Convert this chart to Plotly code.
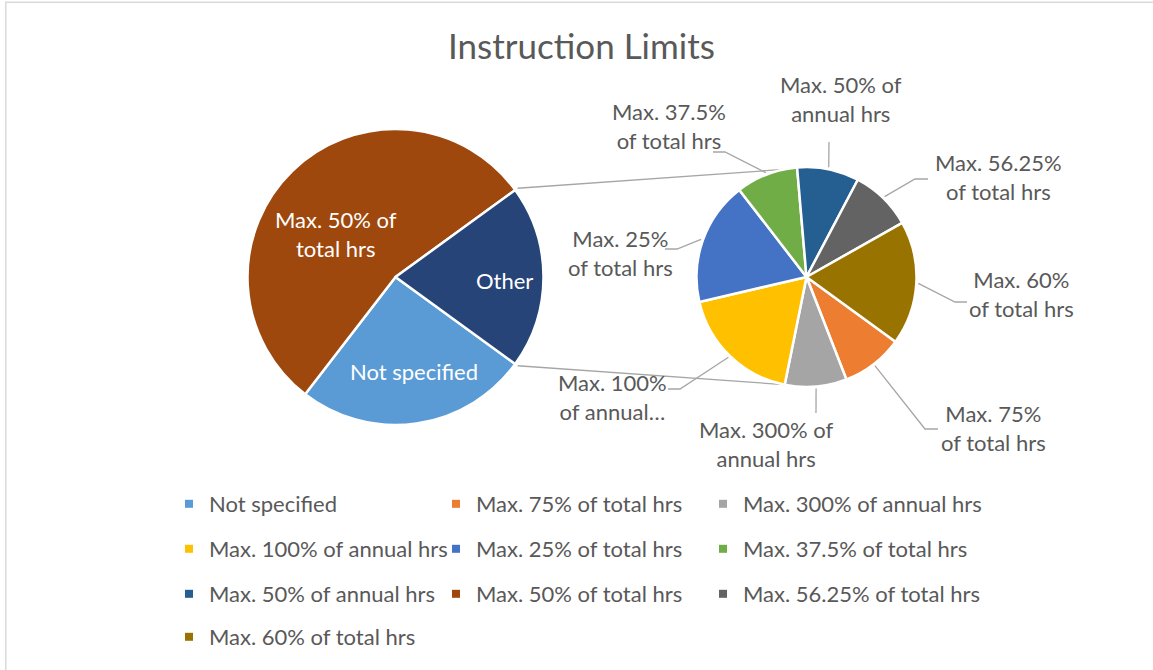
import math
import plotly.graph_objects as go

W, H = 1153, 670

# ---------------- data ----------------
main_labels = ["Not specified", "Max. 50% of total hrs", "Other"]
main_values = [14, 30, 11]
main_colors = ["#5B9BD5", "#9E480E", "#264478"]
main_text = ["Not specified", "Max. 50% of<br>total hrs", "Other"]

sec_labels = [
    "Max. 75% of total hrs",
    "Max. 300% of annual hrs",
    "Max. 100% of annual hrs",
    "Max. 25% of total hrs",
    "Max. 37.5% of total hrs",
    "Max. 50% of annual hrs",
    "Max. 56.25% of total hrs",
    "Max. 60% of total hrs",
]
sec_values = [1, 1, 2, 2, 1, 1, 1, 2]
sec_colors = ["#ED7D31", "#A5A5A5", "#FFC000", "#4472C4",
              "#70AD47", "#255E91", "#636363", "#997300"]
sec_text = [
    "Max. 75%<br>of total hrs",
    "Max. 300% of<br>annual hrs",
    "Max. 100%<br>of annual…",
    "Max. 25%<br>of total hrs",
    "Max. 37.5%<br>of total hrs",
    "Max. 50% of<br>annual hrs",
    "Max. 56.25%<br>of total hrs",
    "Max. 60%<br>of total hrs",
]

legend_labels = [
    "Not specified", "Max. 75% of total hrs", "Max. 300% of annual hrs",
    "Max. 100% of annual hrs", "Max. 25% of total hrs", "Max. 37.5% of total hrs",
    "Max. 50% of annual hrs", "Max. 50% of total hrs", "Max. 56.25% of total hrs",
    "Max. 60% of total hrs",
]

# ---------------- layout / style ----------------
FONT = "Lato"
TXT = "#595959"
LINE = "#A6A6A6"
FS = 22
ROT = 126
MAIN_C, MAIN_R = (395.5, 277.0), 148.0
SEC_C, SEC_R = (806.5, 277.0), 110.0

main_label_pos = [(414, 371.5), (336, 233.5), (504, 280)]
sec_label_pos = [(993, 428), (766, 444), (613, 396.5), (620, 253),
                 (669, 126.5), (841, 99), (998, 176.7), (1021, 294)]
sec_leader_pts = [
    [(938, 429), (925, 429)],
    [(816, 413)],
    [(668, 389), (680, 389)],
    [(665, 249), (677, 249)],
    [(713, 152), (725, 152)],
    [(829, 142)],
    [(928, 179), (915, 179)],
    [(967, 302), (955, 302)],
]
legend_rows_y = [504, 549, 594, 637]
legend_cols_x = [169, 436, 703]


def px(x):
    return x / W


def py(y):
    return 1 - y / H


def domain(c, r):
    return dict(x=[px(c[0] - r), px(c[0] + r)], y=[py(c[1] + r), py(c[1] - r)])


def polar(c, r, ang):
    a = math.radians(ang)
    return (c[0] + r * math.sin(a), c[1] - r * math.cos(a))


def mid_angles(values, rot):
    tot = sum(values)
    out, start = [], rot
    for v in values:
        span = v / tot * 360
        out.append(start + span / 2)
        start += span
    return out


fig = go.Figure()

fig.add_trace(go.Pie(
    labels=main_labels, values=main_values, sort=False, direction="clockwise",
    rotation=ROT, marker=dict(colors=main_colors, line=dict(color="white", width=2.5)),
    textinfo="none", showlegend=False, domain=domain(MAIN_C, MAIN_R),
))
fig.add_trace(go.Pie(
    labels=sec_labels, values=sec_values, sort=False, direction="clockwise",
    rotation=ROT, marker=dict(colors=sec_colors, line=dict(color="white", width=2.5)),
    textinfo="none", showlegend=False, domain=domain(SEC_C, SEC_R),
))

# legend entries (dummy markers), one legend box per entry in a 3-column grid
color_of = dict(zip(main_labels + sec_labels, main_colors + sec_colors))
legends = {}
for i, lab in enumerate(legend_labels):
    key = "legend" if i == 0 else f"legend{i + 1}"
    fig.add_trace(go.Scatter(
        x=[None], y=[None], mode="markers", name=lab,
        marker=dict(symbol="square", size=8, color=color_of[lab]),
        legend=key,
    ))
    legends[key] = dict(
        orientation="h", xanchor="left", yanchor="middle",
        x=px(legend_cols_x[i % 3]), y=py(legend_rows_y[i // 3]),
        bgcolor="rgba(0,0,0,0)", borderwidth=0,
        font=dict(family=FONT, size=FS, color=TXT),
    )

annotations = []
shapes = []

# title
annotations.append(dict(text="Instruction Limits", x=px(581.5), y=py(45), xref="paper", yref="paper",
                        showarrow=False, xanchor="center", yanchor="middle",
                        font=dict(family=FONT, size=35, color=TXT)))

# main pie labels
for t, (x, y) in zip(main_text, main_label_pos):
    annotations.append(dict(text=t, x=px(x), y=py(y), xref="paper", yref="paper",
                            showarrow=False, xanchor="center", yanchor="middle", align="center",
                            font=dict(family=FONT, size=FS, color="white")))

# secondary labels with leader lines
for t, (x, y), pts, ang in zip(sec_text, sec_label_pos, sec_leader_pts,
                               mid_angles(sec_values, ROT)):
    annotations.append(dict(text=t, x=px(x), y=py(y), xref="paper", yref="paper",
                            showarrow=False, xanchor="center", yanchor="middle", align="center",
                            font=dict(family=FONT, size=FS, color=TXT)))
    end = polar(SEC_C, SEC_R + 2, ang)
    allp = pts + [end]
    path = "M " + " L ".join(f"{px(a):.5f},{py(b):.5f}" for a, b in allp)
    shapes.append(dict(type="path", path=path, xref="paper", yref="paper",
                       line=dict(color=LINE, width=1.3)))

# connector lines between pies (Other slice edges -> secondary pie)
tot = sum(main_values)
other_start = ROT + (main_values[0] + main_values[1]) / tot * 360
other_end = other_start + main_values[2] / tot * 360
for a_main, a_sec in [(other_start, -12), (other_end, 192)]:
    p0 = polar(MAIN_C, MAIN_R + 3, a_main)
    p1 = polar(SEC_C, SEC_R, a_sec)
    shapes.append(dict(type="line", x0=px(p0[0]), y0=py(p0[1]), x1=px(p1[0]), y1=py(p1[1]),
                       xref="paper", yref="paper", layer="below",
                       line=dict(color=LINE, width=1.3)))

# chart border
shapes.append(dict(type="rect", x0=px(5.8), y0=-0.02, x1=1.02, y1=py(2.2), xref="paper", yref="paper",
                   line=dict(color="#D9D9D9", width=1.5)))

fig.update_layout(
    width=W, height=H,
    margin=dict(l=0, r=0, t=0, b=0, autoexpand=False),
    paper_bgcolor="white", plot_bgcolor="rgba(0,0,0,0)",
    xaxis=dict(visible=False), yaxis=dict(visible=False),
    annotations=annotations, shapes=shapes,
    showlegend=True,
    **legends,
)

fig.write_html("out.html", config={"displayModeBar": False},
               post_script="document.body.style.margin='0';")
